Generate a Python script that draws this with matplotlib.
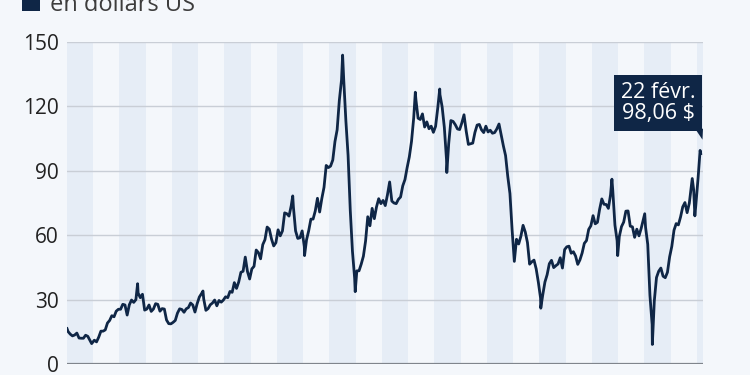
import matplotlib.pyplot as plt
from matplotlib.patches import Rectangle, Polygon
import numpy as np

plt.rcParams['font.family'] = ['Open Sans', 'DejaVu Sans']

# Brent, monthly levels (USD per barrel), Jan 1998 .. Jan 2022
start_year = 1998
monthly = [
    15.1, 13.9, 13.1, 13.5, 14.4, 12.1, 12.0, 12.0, 13.4, 12.9, 11.0, 9.8,      # 1998
    11.1, 10.3, 12.5, 15.3, 15.3, 15.9, 19.1, 20.3, 22.5, 22.0, 24.6, 25.5,     # 1999
    25.5, 27.8, 27.5, 22.8, 27.6, 29.8, 28.7, 30.0, 33.1, 30.9, 32.5, 25.1,     # 2000
    25.6, 27.5, 24.5, 25.6, 28.1, 27.8, 24.6, 25.8, 25.6, 20.5, 18.8, 18.7,     # 2001
    19.4, 20.3, 23.7, 25.7, 25.4, 24.1, 25.7, 26.3, 28.4, 27.5, 24.2, 28.1,     # 2002
    31.2, 32.8, 30.3, 25.0, 25.8, 27.6, 28.4, 29.8, 27.1, 29.6, 28.8, 29.8,     # 2003
    31.3, 30.9, 33.8, 33.4, 37.9, 35.2, 38.2, 42.7, 43.2, 49.8, 43.1, 39.6,     # 2004
    44.3, 45.5, 53.1, 51.9, 49.0, 55.6, 57.9, 63.8, 62.8, 58.2, 55.0, 56.5,     # 2005
    62.5, 59.7, 62.0, 70.4, 70.0, 68.9, 73.7, 73.2, 62.0, 58.5, 58.8, 62.0,     # 2006
    54.6, 57.8, 62.1, 67.5, 67.5, 71.3, 77.2, 70.8, 77.1, 82.3, 92.5, 91.5,     # 2007
    92.2, 95.0, 103.6, 109.1, 122.8, 132.3, 132.7, 113.2, 97.2, 71.6, 52.5, 40.0,  # 2008
    43.4, 43.4, 46.5, 50.2, 57.3, 68.6, 64.4, 72.5, 67.7, 73.2, 77.0, 74.7,     # 2009
    76.2, 73.8, 78.8, 84.8, 75.9, 75.0, 74.7, 76.7, 77.8, 83.0, 85.9, 91.5,     # 2010
    96.5, 103.7, 114.6, 123.3, 114.5, 113.9, 116.5, 110.4, 112.8, 109.6, 110.8, 107.9,  # 2011
    110.7, 119.3, 125.5, 119.8, 110.3, 95.2, 102.6, 113.4, 113.0, 111.5, 109.5, 109.2,  # 2012
    112.3, 116.1, 108.5, 102.3, 102.6, 102.9, 107.9, 111.3, 111.6, 109.1, 107.8, 110.8,  # 2013
    108.1, 108.9, 107.5, 107.8, 109.5, 111.8, 106.8, 101.6, 97.1, 87.4, 79.4, 62.3,  # 2014
    47.8, 58.1, 55.9, 59.5, 64.6, 61.5, 56.6, 46.5, 47.6, 48.4, 44.3, 38.0,     # 2015
    30.7, 32.2, 38.2, 41.6, 46.7, 48.3, 44.9, 45.8, 46.6, 49.5, 44.7, 53.3,     # 2016
    54.6, 54.9, 51.6, 52.3, 50.3, 46.4, 48.5, 51.7, 56.2, 57.5, 62.7, 64.4,     # 2017
    69.1, 65.3, 66.0, 72.1, 76.9, 74.4, 74.3, 72.5, 78.9, 81.0, 64.7, 57.4,     # 2018
    59.4, 64.0, 66.1, 71.2, 71.3, 64.2, 63.9, 59.0, 62.8, 59.7, 63.2, 67.3,     # 2019
    63.7, 55.7, 32.0, 18.4, 29.4, 40.3, 43.2, 44.7, 40.9, 40.2, 42.7, 49.9,     # 2020
    54.8, 62.3, 65.4, 64.8, 68.5, 73.2, 75.2, 70.5, 74.9, 83.5, 81.1, 74.2,     # 2021
    86.5,                                                                       # 2022
]

# daily highs / lows that stand out on the chart (decimal year, value)
spike_dates = [1998.0, 1998.94, 2000.69, 2003.18, 2006.60, 2007.05, 2008.50,
               2008.98, 2011.27, 2012.20, 2012.47, 2016.05, 2018.76, 2018.98,
               2020.01, 2020.30, 2021.82, 2021.92, 2022.12, 2022.142]
spike_values = [16.5, 9.5, 37.4, 34.0, 78.3, 50.5, 143.9,
                33.7, 126.6, 128.1, 89.2, 26.0, 86.1, 50.5,
                70.0, 9.1, 86.4, 69.0, 99.5, 98.06]

month_dates = start_year + (np.arange(len(monthly)) + 0.5) / 12
dates = np.concatenate([month_dates, spike_dates])
values = np.concatenate([monthly, spike_values])
order = np.argsort(dates)
dates, values = dates[order], values[order]

yticks = [0, 30, 60, 90, 120, 150]
label_date = "22 févr."
label_value = "98,06 $"

navy = '#0f2646'
bg = '#f4f7fb'
stripe = '#e6edf6'

fig = plt.figure(figsize=(7.5, 3.75), dpi=100, facecolor=bg)
ax = fig.add_axes([67 / 750, 1 - 364 / 375, 636 / 750, 322 / 375])
ax.set_facecolor(bg)

# alternating year stripes
for yr in range(1998, 2023, 2):
    ax.axvspan(yr, yr + 1, color=stripe, lw=0, zorder=0)

for t in yticks[1:]:
    ax.axhline(t, color='#c9ced6', lw=1, zorder=1)
ax.axhline(0, color='#80858c', lw=1.6, zorder=1)

ax.plot(dates, values, color=navy, lw=2.0, zorder=3, solid_joinstyle='round')

ax.set_xlim(1998.0, 2022.23)
ax.set_ylim(0, 150)
ax.set_yticks(yticks)
ax.set_yticklabels([str(t) for t in yticks], fontsize=15, color='#222222')
ax.tick_params(axis='y', length=0, pad=6)
ax.set_xticks([])
for s in ax.spines.values():
    s.set_visible(False)

# callout box for last value
ax.text(2020.52, 121.6, label_date + "\n" + label_value, ha='center', va='center',
        fontsize=15.5, color='white', linespacing=1.0, zorder=5,
        bbox=dict(boxstyle='square,pad=0.32', fc=navy, ec='none'))
ax.add_patch(Polygon([[2021.93, 109.6], [2022.23, 109.6], [2022.21, 104.5]],
                     closed=True, fc=navy, ec='none', zorder=5, clip_on=False))

# legend line at top (partly cut off)
fig.patches.append(Rectangle((22 / 750, 1 - 11 / 375), 18 / 750, 18 / 375,
                             transform=fig.transFigure, fc=navy, ec='none'))
fig.text(50 / 750, 1 - 11 / 375, "en dollars US", fontsize=17, color='#3d3d3d',
         va='baseline', ha='left')

fig.savefig('out.png', dpi=100, facecolor=bg)
